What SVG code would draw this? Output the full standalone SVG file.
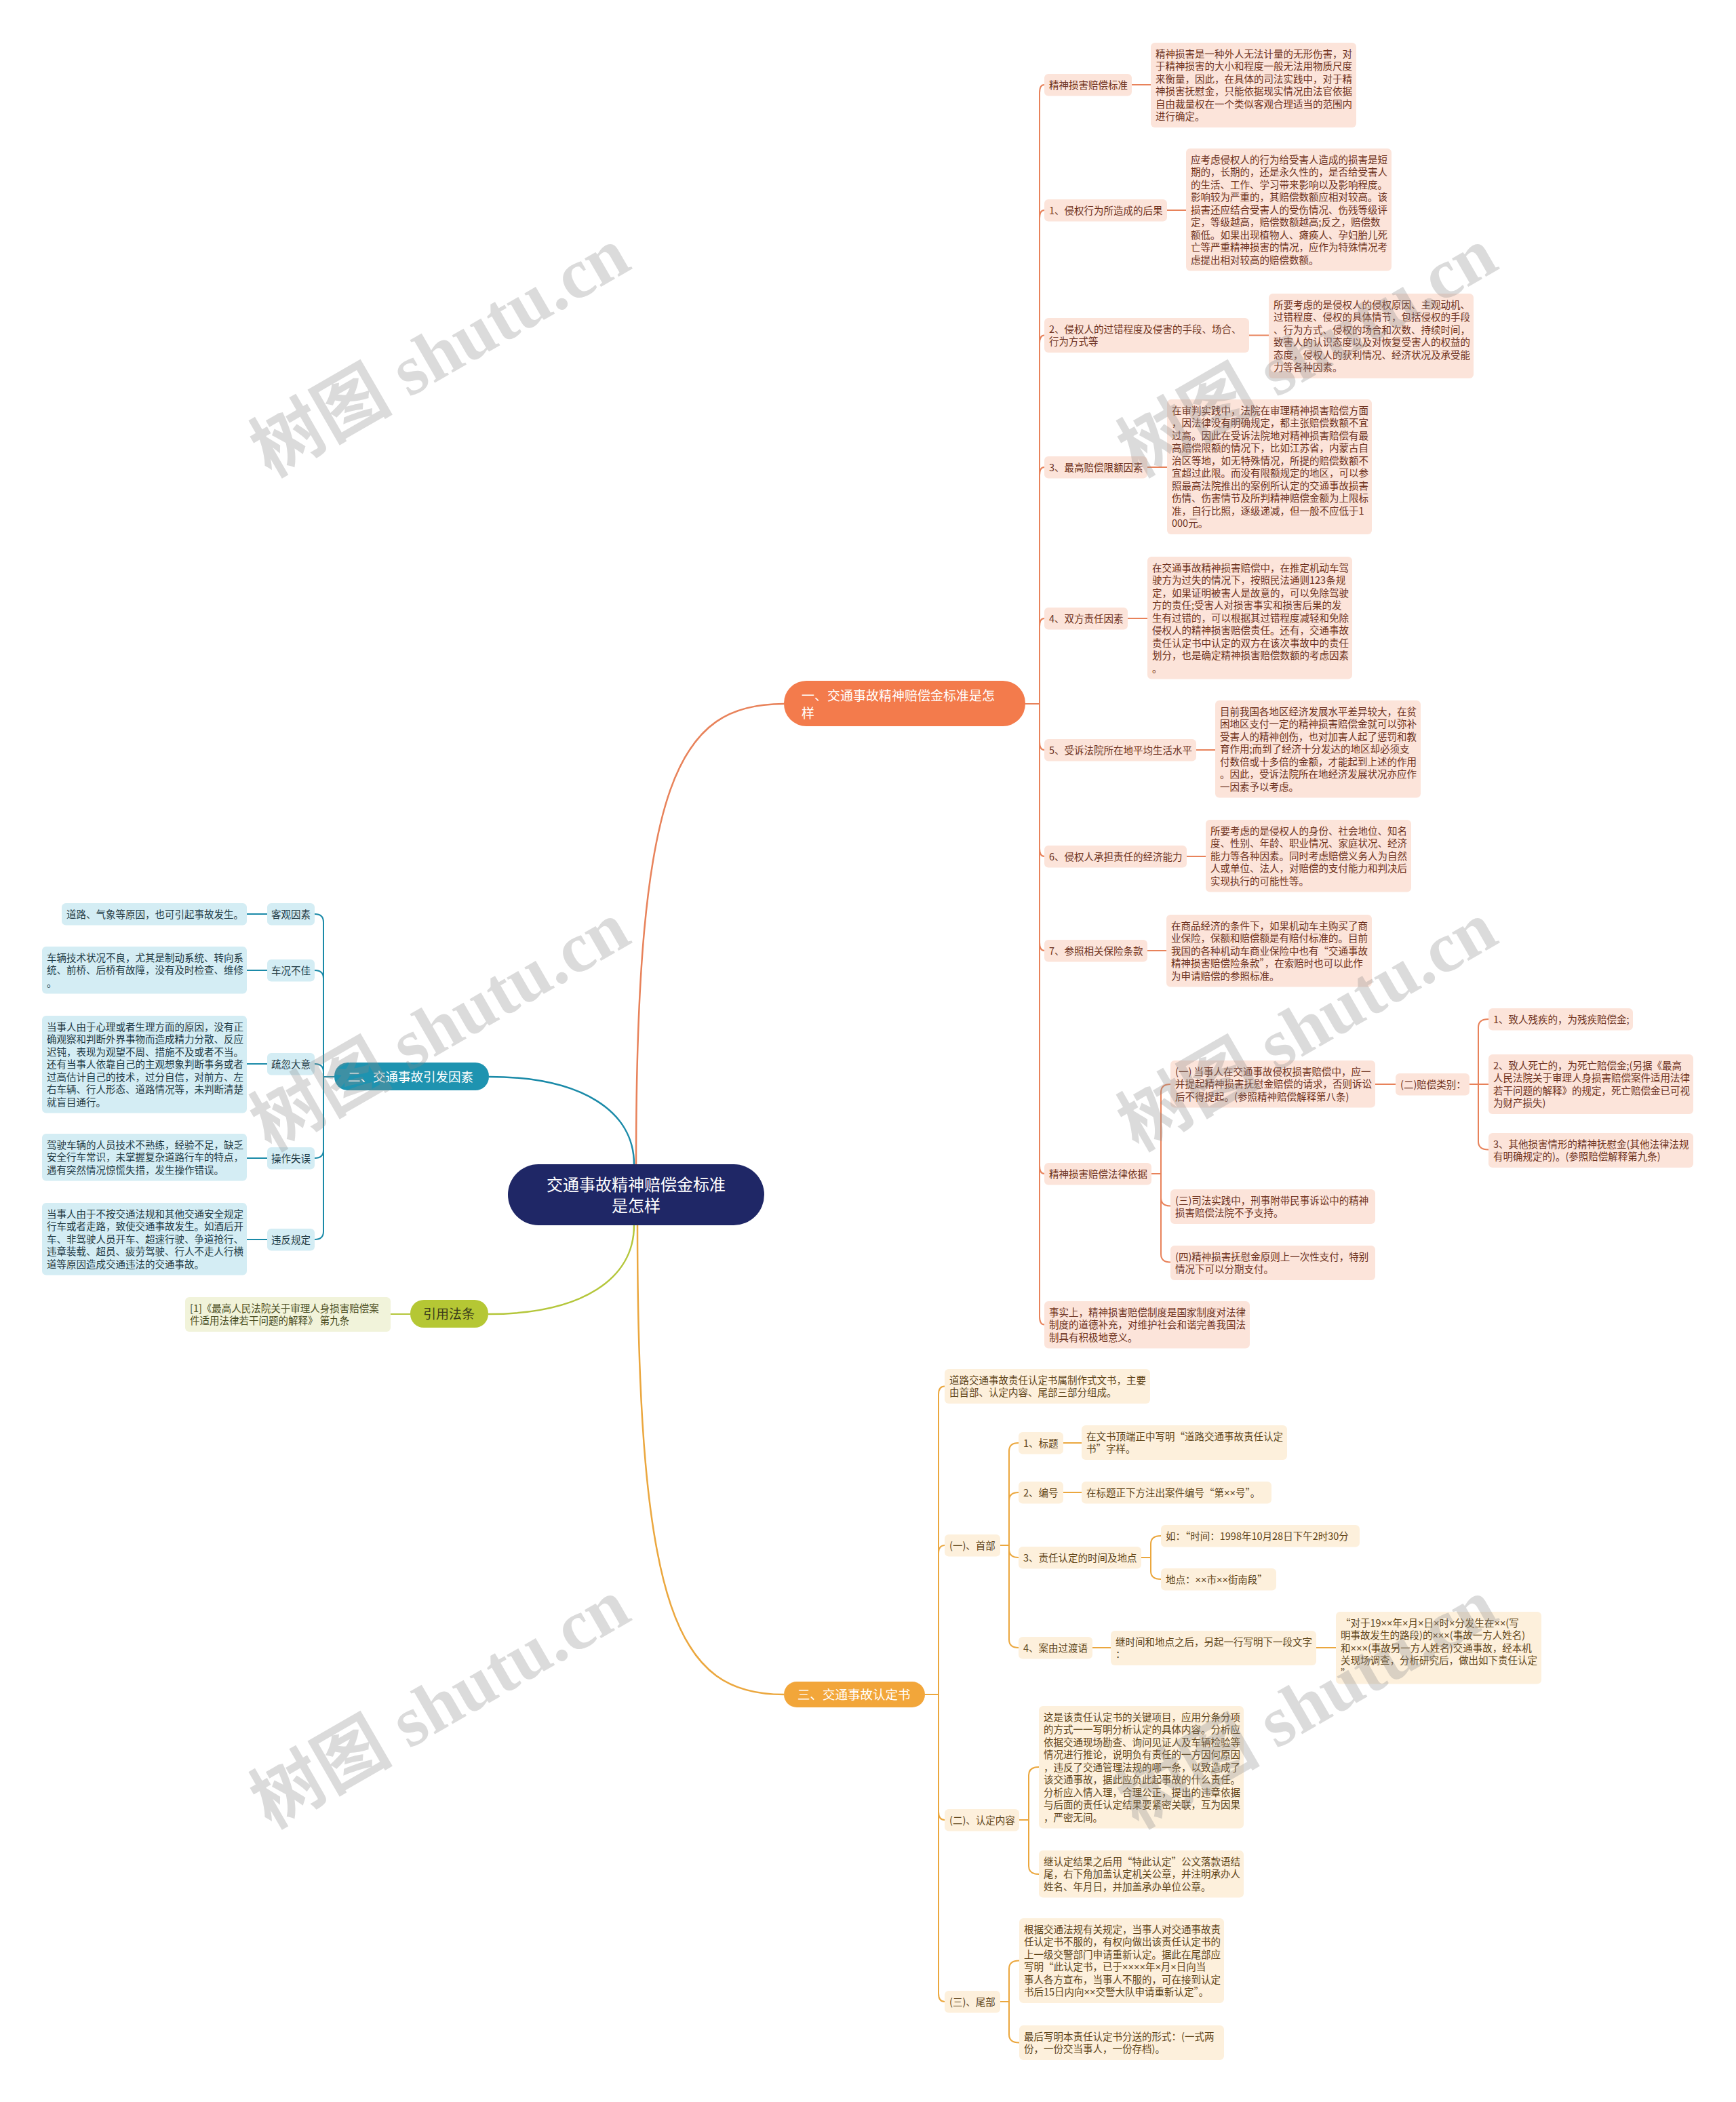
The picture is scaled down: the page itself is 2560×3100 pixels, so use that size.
<svg xmlns="http://www.w3.org/2000/svg" width="2560" height="3100" viewBox="0 0 2560 3100">
<style>
text{font-family:"Noto Sans CJK SC","Noto Sans",sans-serif}
.t{font-size:14.5px}
.x{font-family:"Liberation Sans",sans-serif}
.o rect{fill:#FCE4DA} .o text{fill:#6E3220}
.b rect{fill:#D4EDF4} .b text{fill:#1F3A44}
.y rect{fill:#FDF0DC} .y text{fill:#5E4418}
.g rect{fill:#F1F3DA} .g text{fill:#4A4D22}
#connectors path{fill:none;stroke-width:2}
#connectors .lo{stroke:#E8825A} #connectors .lb{stroke:#1A8AA8} #connectors .ly{stroke:#EBA73E} #connectors .lg{stroke:#B4C63A}
#connectors .main{stroke-width:2.5}
.wm{font-family:"Liberation Serif","Noto Sans CJK SC",serif;font-size:105px;font-weight:bold;fill:#8a8a8a;opacity:.3}
</style>
<rect width="2560" height="3100" fill="#FFFFFF"/>
<g id="connectors">
<path class="lo main" d="M938 1717 C938 1150 1000 1038 1156 1038"/>
<path class="lb main" d="M935 1717 C935 1640 860 1588 721 1588"/>
<path class="lg main" d="M935 1807 C935 1885 860 1938 720 1938"/>
<path class="ly main" d="M940 1807 C940 2380 1000 2499 1156 2499"/>
<path class="lo" d="M1512 1038 H1533 V137 Q1533 125 1540 125"/>
<path class="lo" d="M1512 1038 H1533 V322 Q1533 310 1540 310"/>
<path class="lo" d="M1512 1038 H1533 V506.5 Q1533 494.5 1540 494.5"/>
<path class="lo" d="M1512 1038 H1533 V701 Q1533 689 1540 689"/>
<path class="lo" d="M1512 1038 H1533 V924 Q1533 912 1540 912"/>
<path class="lo" d="M1512 1038 H1533 V1094 Q1533 1106 1540 1106"/>
<path class="lo" d="M1512 1038 H1533 V1251 Q1533 1263 1540 1263"/>
<path class="lo" d="M1512 1038 H1533 V1390 Q1533 1402 1540 1402"/>
<path class="lo" d="M1512 1038 H1533 V1719 Q1533 1731 1540 1731"/>
<path class="lo" d="M1512 1038 H1533 V1941.5 Q1533 1953.5 1540 1953.5"/>
<path class="lo" d="M1669 125 H1697"/>
<path class="lo" d="M1721 310 H1749"/>
<path class="lo" d="M1842 494.5 H1871"/>
<path class="lo" d="M1692 689 H1721"/>
<path class="lo" d="M1663 912 H1692"/>
<path class="lo" d="M1764 1106 H1792"/>
<path class="lo" d="M1750 1263 H1778"/>
<path class="lo" d="M1692 1402 H1720"/>
<path class="lo" d="M1698 1731 H1712 V1611 Q1712 1599 1726 1599"/>
<path class="lo" d="M1698 1731 H1712 V1766.5 Q1712 1778.5 1726 1778.5"/>
<path class="lo" d="M1698 1731 H1712 V1849.5 Q1712 1861.5 1726 1861.5"/>
<path class="lo" d="M2028 1599 H2058"/>
<path class="lo" d="M2167 1599 H2180 V1515 Q2180 1503 2195 1503"/>
<path class="lo" d="M2167 1599 H2195"/>
<path class="lo" d="M2167 1599 H2180 V1683.5 Q2180 1695.5 2195 1695.5"/>
<path class="lb" d="M493 1588 H477 V1360 Q477 1348 464 1348"/>
<path class="lb" d="M493 1588 H477 V1443 Q477 1431 464 1431"/>
<path class="lb" d="M493 1588 H477 V1581 Q477 1569 464 1569"/>
<path class="lb" d="M493 1588 H477 V1696 Q477 1708 464 1708"/>
<path class="lb" d="M493 1588 H477 V1816 Q477 1828 464 1828"/>
<path class="lb" d="M394 1348 H364"/>
<path class="lb" d="M394 1431 H364"/>
<path class="lb" d="M394 1569 H364"/>
<path class="lb" d="M394 1708 H364"/>
<path class="lb" d="M394 1828 H364"/>
<path class="lg" d="M605 1938 H576"/>
<path class="ly" d="M1364 2499 H1384 V2056.5 Q1384 2044.5 1393 2044.5"/>
<path class="ly" d="M1364 2499 H1384 V2291 Q1384 2279 1393 2279"/>
<path class="ly" d="M1364 2499 H1384 V2672 Q1384 2684 1393 2684"/>
<path class="ly" d="M1364 2499 H1384 V2940 Q1384 2952 1393 2952"/>
<path class="ly" d="M1475 2279 H1488 V2140 Q1488 2128 1502 2128"/>
<path class="ly" d="M1475 2279 H1488 V2213 Q1488 2201 1502 2201"/>
<path class="ly" d="M1475 2279 H1488 V2285 Q1488 2297 1502 2297"/>
<path class="ly" d="M1475 2279 H1488 V2418 Q1488 2430 1502 2430"/>
<path class="ly" d="M1568 2128 H1595"/>
<path class="ly" d="M1568 2201 H1595"/>
<path class="ly" d="M1683 2297 H1697 V2277 Q1697 2265 1712 2265"/>
<path class="ly" d="M1683 2297 H1697 V2317 Q1697 2329 1712 2329"/>
<path class="ly" d="M1611 2430 H1638"/>
<path class="ly" d="M1941 2430 H1970"/>
<path class="ly" d="M1503 2684 H1517 V2618 Q1517 2606 1532 2606"/>
<path class="ly" d="M1503 2684 H1517 V2752 Q1517 2764 1532 2764"/>
<path class="ly" d="M1475 2952 H1488 V2903.5 Q1488 2891.5 1503 2891.5"/>
<path class="ly" d="M1475 2952 H1488 V3000.5 Q1488 3012.5 1503 3012.5"/>
</g>

<g id="root"><rect x="749" y="1717" width="378" height="90" rx="45" fill="#1F2766"/>
<text x="938" y="1756" font-size="24" fill="#FFFFFF" text-anchor="middle">交通事故精神赔偿金标准</text>
<text x="938" y="1787" font-size="24" fill="#FFFFFF" text-anchor="middle">是怎样</text></g>

<g id="branch1"><rect x="1156" y="1004" width="356" height="67" rx="33" fill="#F37B4C"/>
<text x="1182" y="1033" font-size="19" fill="#FFFFFF">一、交通事故精神赔偿金标准是怎</text>
<text x="1182" y="1059" font-size="19" fill="#FFFFFF">样</text></g>

<g id="branch2"><rect x="493" y="1567" width="228" height="41" rx="20" fill="#1E93B0"/>
<text x="513" y="1594.5" font-size="18.5" fill="#FFFFFF">二、交通事故引发因素</text></g>

<g id="branch3"><rect x="1156" y="2480" width="208" height="38" rx="19" fill="#F2A63A"/>
<text x="1176" y="2506" font-size="18.5" fill="#FFFFFF">三、交通事故认定书</text></g>

<g id="branch4"><rect x="605" y="1917" width="115" height="41" rx="20" fill="#B5C734"/>
<text x="662" y="1945" font-size="19" fill="#3A3C1A" text-anchor="middle">引用法条</text></g>

<g id="n1-0" class="o"><rect x="1540" y="109" width="129" height="32.5" rx="6"/><text class="t" x="1547" y="130.5">精神损害赔偿标准</text></g>
<g id="n1-0t" class="o"><rect x="1697" y="63" width="303" height="125" rx="6"/><text class="t"><tspan x="1704" y="84.5">精神损害是一种外人无法计量的无形伤害，对</tspan><tspan x="1704" y="103">于精神损害的大小和程度一般无法用物质尺度</tspan><tspan x="1704" y="121.5">来衡量，因此，在具体的司法实践中，对于精</tspan><tspan x="1704" y="140">神损害抚慰金，只能依据现实情况由法官依据</tspan><tspan x="1704" y="158.5">自由裁量权在一个类似客观合理适当的范围内</tspan><tspan x="1704" y="177">进行确定。</tspan></text></g>

<g id="n1-1" class="o"><rect x="1540" y="294" width="181" height="32.5" rx="6"/><text class="t" x="1547" y="315.5">1、侵权行为所造成的后果</text></g>
<g id="n1-1t" class="o"><rect x="1749" y="219" width="303" height="180.5" rx="6"/><text class="t"><tspan x="1756" y="240.5">应考虑侵权人的行为给受害人造成的损害是短</tspan><tspan x="1756" y="259">期的，长期的，还是永久性的，是否给受害人</tspan><tspan x="1756" y="277.5">的生活、工作、学习带来影响以及影响程度。</tspan><tspan x="1756" y="296">影响较为严重的，其赔偿数额应相对较高。该</tspan><tspan x="1756" y="314.5">损害还应结合受害人的受伤情况、伤残等级评</tspan><tspan x="1756" y="333">定，等级越高，赔偿数额越高;反之，赔偿数</tspan><tspan x="1756" y="351.5">额低。如果出现植物人、瘫痪人、孕妇胎儿死</tspan><tspan x="1756" y="370">亡等严重精神损害的情况，应作为特殊情况考</tspan><tspan x="1756" y="388.5">虑提出相对较高的赔偿数额。</tspan></text></g>

<g id="n1-2" class="o"><rect x="1540" y="469" width="302" height="51" rx="6"/><text class="t"><tspan x="1547" y="490.5">2、侵权人的过错程度及侵害的手段、场合、</tspan><tspan x="1547" y="509">行为方式等</tspan></text></g>
<g id="n1-2t" class="o"><rect x="1871" y="433" width="302" height="125" rx="6"/><text class="t"><tspan x="1878" y="454.5">所要考虑的是侵权人的侵权原因、主观动机、</tspan><tspan x="1878" y="473">过错程度、侵权的具体情节，包括侵权的手段</tspan><tspan x="1878" y="491.5">、行为方式、侵权的场合和次数、持续时间，</tspan><tspan x="1878" y="510">致害人的认识态度以及对恢复受害人的权益的</tspan><tspan x="1878" y="528.5">态度，侵权人的获利情况、经济状况及承受能</tspan><tspan x="1878" y="547">力等各种因素。</tspan></text></g>

<g id="n1-3" class="o"><rect x="1540" y="673" width="152" height="32.5" rx="6"/><text class="t" x="1547" y="694.5">3、最高赔偿限额因素</text></g>
<g id="n1-3t" class="o"><rect x="1721" y="589" width="302" height="199" rx="6"/><text class="t"><tspan x="1728" y="610.5">在审判实践中，法院在审理精神损害赔偿方面</tspan><tspan x="1728" y="629">，因法律没有明确规定，都主张赔偿数额不宜</tspan><tspan x="1728" y="647.5">过高。因此在受诉法院地对精神损害赔偿有最</tspan><tspan x="1728" y="666">高赔偿限额的情况下，比如江苏省，内蒙古自</tspan><tspan x="1728" y="684.5">治区等地，如无特殊情况，所提的赔偿数额不</tspan><tspan x="1728" y="703">宜超过此限。而没有限额规定的地区，可以参</tspan><tspan x="1728" y="721.5">照最高法院推出的案例所认定的交通事故损害</tspan><tspan x="1728" y="740">伤情、伤害情节及所判精神赔偿金额为上限标</tspan><tspan x="1728" y="758.5">准，自行比照，逐级递减，但一般不应低于1</tspan><tspan x="1728" y="777">000元。</tspan></text></g>

<g id="n1-4" class="o"><rect x="1540" y="896" width="123" height="32.5" rx="6"/><text class="t" x="1547" y="917.5">4、双方责任因素</text></g>
<g id="n1-4t" class="o"><rect x="1692" y="821" width="302" height="180.5" rx="6"/><text class="t"><tspan x="1699" y="842.5">在交通事故精神损害赔偿中，在推定机动车驾</tspan><tspan x="1699" y="861">驶方为过失的情况下，按照民法通则123条规</tspan><tspan x="1699" y="879.5">定，如果证明被害人是故意的，可以免除驾驶</tspan><tspan x="1699" y="898">方的责任;受害人对损害事实和损害后果的发</tspan><tspan x="1699" y="916.5">生有过错的，可以根据其过错程度减轻和免除</tspan><tspan x="1699" y="935">侵权人的精神损害赔偿责任。还有，交通事故</tspan><tspan x="1699" y="953.5">责任认定书中认定的双方在该次事故中的责任</tspan><tspan x="1699" y="972">划分，也是确定精神损害赔偿数额的考虑因素</tspan><tspan x="1699" y="990.5">。</tspan></text></g>

<g id="n1-5" class="o"><rect x="1540" y="1090" width="224" height="32.5" rx="6"/><text class="t" x="1547" y="1111.5">5、受诉法院所在地平均生活水平</text></g>
<g id="n1-5t" class="o"><rect x="1792" y="1033" width="303" height="143.5" rx="6"/><text class="t"><tspan x="1799" y="1054.5">目前我国各地区经济发展水平差异较大，在贫</tspan><tspan x="1799" y="1073">困地区支付一定的精神损害赔偿金就可以弥补</tspan><tspan x="1799" y="1091.5">受害人的精神创伤，也对加害人起了惩罚和教</tspan><tspan x="1799" y="1110">育作用;而到了经济十分发达的地区却必须支</tspan><tspan x="1799" y="1128.5">付数倍或十多倍的金额，才能起到上述的作用</tspan><tspan x="1799" y="1147">。因此，受诉法院所在地经济发展状况亦应作</tspan><tspan x="1799" y="1165.5">一因素予以考虑。</tspan></text></g>

<g id="n1-6" class="o"><rect x="1540" y="1247" width="210" height="32.5" rx="6"/><text class="t" x="1547" y="1268.5">6、侵权人承担责任的经济能力</text></g>
<g id="n1-6t" class="o"><rect x="1778" y="1209" width="303" height="106.5" rx="6"/><text class="t"><tspan x="1785" y="1230.5">所要考虑的是侵权人的身份、社会地位、知名</tspan><tspan x="1785" y="1249">度、性别、年龄、职业情况、家庭状况、经济</tspan><tspan x="1785" y="1267.5">能力等各种因素。同时考虑赔偿义务人为自然</tspan><tspan x="1785" y="1286">人或单位、法人，对赔偿的支付能力和判决后</tspan><tspan x="1785" y="1304.5">实现执行的可能性等。</tspan></text></g>

<g id="n1-7" class="o"><rect x="1540" y="1386" width="152" height="32.5" rx="6"/><text class="t" x="1547" y="1407.5">7、参照相关保险条款</text></g>
<g id="n1-7t" class="o"><rect x="1720" y="1349" width="303" height="106.5" rx="6"/><text class="t"><tspan x="1727" y="1370.5">在商品经济的条件下，如果机动车主购买了商</tspan><tspan x="1727" y="1389">业保险，保额和赔偿额是有赔付标准的。目前</tspan><tspan x="1727" y="1407.5">我国的各种机动车商业保险中也有“交通事故</tspan><tspan x="1727" y="1426">精神损害赔偿险条款”，在索赔时也可以此作</tspan><tspan x="1727" y="1444.5">为申请赔偿的参照标准。</tspan></text></g>

<g id="n1-8" class="o"><rect x="1540" y="1715" width="158" height="32.5" rx="6"/><text class="t" x="1547" y="1736.5">精神损害赔偿法律依据</text></g>
<g id="n1-8a" class="o"><rect x="1726" y="1564" width="302" height="69.5" rx="6"/><text class="t"><tspan x="1733" y="1585.5">(一) 当事人在交通事故侵权损害赔偿中，应一</tspan><tspan x="1733" y="1604">并提起精神损害抚慰金赔偿的请求，否则诉讼</tspan><tspan x="1733" y="1622.5">后不得提起。(参照精神赔偿解释第八条)</tspan></text></g>
<g id="n1-8b" class="o"><rect x="2058" y="1583" width="109" height="32.5" rx="6"/><text class="t" x="2065" y="1604.5">(二)赔偿类别：</text></g>
<g id="n1-8b1" class="o"><rect x="2195" y="1487" width="213" height="32.5" rx="6"/><text class="t" x="2202" y="1508.5">1、致人残疾的，为残疾赔偿金;</text></g>
<g id="n1-8b2" class="o"><rect x="2195" y="1555" width="302" height="88" rx="6"/><text class="t"><tspan x="2202" y="1576.5">2、致人死亡的，为死亡赔偿金;(另据《最高</tspan><tspan x="2202" y="1595">人民法院关于审理人身损害赔偿案件适用法律</tspan><tspan x="2202" y="1613.5">若干问题的解释》的规定，死亡赔偿金已可视</tspan><tspan x="2202" y="1632">为财产损失)</tspan></text></g>
<g id="n1-8b3" class="o"><rect x="2195" y="1671" width="302" height="51" rx="6"/><text class="t"><tspan x="2202" y="1692.5">3、其他损害情形的精神抚慰金(其他法律法规</tspan><tspan x="2202" y="1711">有明确规定的)。(参照赔偿解释第九条)</tspan></text></g>
<g id="n1-8c" class="o"><rect x="1726" y="1754" width="302" height="51" rx="6"/><text class="t"><tspan x="1733" y="1775.5">(三)司法实践中，刑事附带民事诉讼中的精神</tspan><tspan x="1733" y="1794">损害赔偿法院不予支持。</tspan></text></g>
<g id="n1-8d" class="o"><rect x="1726" y="1837" width="302" height="51" rx="6"/><text class="t"><tspan x="1733" y="1858.5">(四)精神损害抚慰金原则上一次性支付，特别</tspan><tspan x="1733" y="1877">情况下可以分期支付。</tspan></text></g>

<g id="n1-9" class="o"><rect x="1540" y="1919" width="303" height="69.5" rx="6"/><text class="t"><tspan x="1547" y="1940.5">事实上，精神损害赔偿制度是国家制度对法律</tspan><tspan x="1547" y="1959">制度的道德补充，对维护社会和谐完善我国法</tspan><tspan x="1547" y="1977.5">制具有积极地意义。</tspan></text></g>

<g id="n2-1" class="b"><rect x="394" y="1332" width="70" height="32.5" rx="6"/><text class="t" x="400" y="1353.5">客观因素</text></g>
<g id="n2-1t" class="b"><rect x="91" y="1332" width="273" height="32.5" rx="6"/><text class="t" x="98" y="1353.5">道路、气象等原因，也可引起事故发生。</text></g>
<g id="n2-2" class="b"><rect x="394" y="1415" width="70" height="32.5" rx="6"/><text class="t" x="400" y="1436.5">车况不佳</text></g>
<g id="n2-2t" class="b"><rect x="62" y="1396" width="302" height="69.5" rx="6"/><text class="t"><tspan x="69" y="1417.5">车辆技术状况不良，尤其是制动系统、转向系</tspan><tspan x="69" y="1436">统、前桥、后桥有故障，没有及时检查、维修</tspan><tspan x="69" y="1454.5">。</tspan></text></g>
<g id="n2-3" class="b"><rect x="394" y="1553" width="70" height="32.5" rx="6"/><text class="t" x="400" y="1574.5">疏忽大意</text></g>
<g id="n2-3t" class="b"><rect x="62" y="1498" width="302" height="143.5" rx="6"/><text class="t"><tspan x="69" y="1519.5">当事人由于心理或者生理方面的原因，没有正</tspan><tspan x="69" y="1538">确观察和判断外界事物而造成精力分散、反应</tspan><tspan x="69" y="1556.5">迟钝，表现为观望不周、措施不及或者不当。</tspan><tspan x="69" y="1575">还有当事人依靠自己的主观想象判断事务或者</tspan><tspan x="69" y="1593.5">过高估计自己的技术，过分自信，对前方、左</tspan><tspan x="69" y="1612">右车辆、行人形态、道路情况等，未判断清楚</tspan><tspan x="69" y="1630.5">就盲目通行。</tspan></text></g>
<g id="n2-4" class="b"><rect x="394" y="1692" width="70" height="32.5" rx="6"/><text class="t" x="400" y="1713.5">操作失误</text></g>
<g id="n2-4t" class="b"><rect x="62" y="1672" width="302" height="69.5" rx="6"/><text class="t"><tspan x="69" y="1693.5">驾驶车辆的人员技术不熟练，经验不足，缺乏</tspan><tspan x="69" y="1712">安全行车常识，未掌握复杂道路行车的特点，</tspan><tspan x="69" y="1730.5">遇有突然情况惊慌失措，发生操作错误。</tspan></text></g>
<g id="n2-5" class="b"><rect x="394" y="1812" width="70" height="32.5" rx="6"/><text class="t" x="400" y="1833.5">违反规定</text></g>
<g id="n2-5t" class="b"><rect x="62" y="1774" width="302" height="106.5" rx="6"/><text class="t"><tspan x="69" y="1795.5">当事人由于不按交通法规和其他交通安全规定</tspan><tspan x="69" y="1814">行车或者走路，致使交通事故发生。如酒后开</tspan><tspan x="69" y="1832.5">车、非驾驶人员开车、超速行驶、争道抢行、</tspan><tspan x="69" y="1851">违章装载、超员、疲劳驾驶、行人不走人行横</tspan><tspan x="69" y="1869.5">道等原因造成交通违法的交通事故。</tspan></text></g>

<g id="n4-1" class="g"><rect x="273" y="1913" width="303" height="51" rx="6"/><text class="t"><tspan x="280" y="1934.5">[1]《最高人民法院关于审理人身损害赔偿案</tspan><tspan x="280" y="1953">件适用法律若干问题的解释》 第九条</tspan></text></g>

<g id="n3-0" class="y"><rect x="1393" y="2019" width="303" height="51" rx="6"/><text class="t"><tspan x="1400" y="2040.5">道路交通事故责任认定书属制作式文书，主要</tspan><tspan x="1400" y="2059">由首部、认定内容、尾部三部分组成。</tspan></text></g>
<g id="n3-1" class="y"><rect x="1393" y="2263" width="82" height="32.5" rx="6"/><text class="t" x="1400" y="2284.5">(一)、首部</text></g>
<g id="n3-1a" class="y"><rect x="1502" y="2112" width="66" height="32.5" rx="6"/><text class="t" x="1509" y="2133.5">1、标题</text></g>
<g id="n3-1at" class="y"><rect x="1595" y="2102" width="303" height="51" rx="6"/><text class="t"><tspan x="1602" y="2123.5">在文书顶端正中写明“道路交通事故责任认定</tspan><tspan x="1602" y="2142">书”字样。</tspan></text></g>
<g id="n3-1b" class="y"><rect x="1502" y="2185" width="66" height="32.5" rx="6"/><text class="t" x="1509" y="2206.5">2、编号</text></g>
<g id="n3-1bt" class="y"><rect x="1595" y="2185" width="280" height="32.5" rx="6"/><text class="t" x="1602" y="2206.5">在标题正下方注出案件编号“第<tspan class="x">××</tspan>号”。</text></g>
<g id="n3-1c" class="y"><rect x="1502" y="2281" width="181" height="32.5" rx="6"/><text class="t" x="1509" y="2302.5">3、责任认定的时间及地点</text></g>
<g id="n3-1c1" class="y"><rect x="1712" y="2249" width="293" height="32.5" rx="6"/><text class="t" x="1719" y="2270.5">如：“时间：1998年10月28日下午2时30分</text></g>
<g id="n3-1c2" class="y"><rect x="1712" y="2313" width="170" height="32.5" rx="6"/><text class="t" x="1719" y="2334.5">地点：<tspan class="x">××</tspan>市<tspan class="x">××</tspan>街南段”</text></g>
<g id="n3-1d" class="y"><rect x="1502" y="2414" width="109" height="32.5" rx="6"/><text class="t" x="1509" y="2435.5">4、案由过渡语</text></g>
<g id="n3-1dt" class="y"><rect x="1638" y="2405" width="303" height="51" rx="6"/><text class="t"><tspan x="1645" y="2426.5">继时间和地点之后，另起一行写明下一段文字</tspan><tspan x="1645" y="2445">：</tspan></text></g>
<g id="n3-1dt2" class="y"><rect x="1970" y="2377" width="303" height="106.5" rx="6"/><text class="t"><tspan x="1977" y="2398.5">“对于19<tspan class="x">××</tspan>年<tspan class="x">×</tspan>月<tspan class="x">×</tspan>日<tspan class="x">×</tspan>时<tspan class="x">×</tspan>分发生在<tspan class="x">××</tspan>(写</tspan><tspan x="1977" y="2417">明事故发生的路段)的<tspan class="x">×××</tspan>(事故一方人姓名)</tspan><tspan x="1977" y="2435.5">和<tspan class="x">×××</tspan>(事故另一方人姓名)交通事故，经本机</tspan><tspan x="1977" y="2454">关现场调查，分析研究后，做出如下责任认定</tspan><tspan x="1977" y="2472.5">”</tspan></text></g>
<g id="n3-2" class="y"><rect x="1393" y="2668" width="110" height="32.5" rx="6"/><text class="t" x="1400" y="2689.5">(二)、认定内容</text></g>
<g id="n3-2a" class="y"><rect x="1532" y="2516" width="302" height="180.5" rx="6"/><text class="t"><tspan x="1539" y="2537.5">这是该责任认定书的关键项目，应用分条分项</tspan><tspan x="1539" y="2556">的方式一一写明分析认定的具体内容。分析应</tspan><tspan x="1539" y="2574.5">依据交通现场勘查、询问见证人及车辆检验等</tspan><tspan x="1539" y="2593">情况进行推论，说明负有责任的一方因何原因</tspan><tspan x="1539" y="2611.5">，违反了交通管理法规的哪一条，以致造成了</tspan><tspan x="1539" y="2630">该交通事故，据此应负此起事故的什么责任。</tspan><tspan x="1539" y="2648.5">分析应入情入理，合理公正，提出的违章依据</tspan><tspan x="1539" y="2667">与后面的责任认定结果要紧密关联，互为因果</tspan><tspan x="1539" y="2685.5">，严密无间。</tspan></text></g>
<g id="n3-2b" class="y"><rect x="1532" y="2729" width="302" height="69.5" rx="6"/><text class="t"><tspan x="1539" y="2750.5">继认定结果之后用“特此认定”公文落款语结</tspan><tspan x="1539" y="2769">尾，右下角加盖认定机关公章，并注明承办人</tspan><tspan x="1539" y="2787.5">姓名、年月日，并加盖承办单位公章。</tspan></text></g>
<g id="n3-3" class="y"><rect x="1393" y="2936" width="82" height="32.5" rx="6"/><text class="t" x="1400" y="2957.5">(三)、尾部</text></g>
<g id="n3-3a" class="y"><rect x="1503" y="2829" width="302" height="125" rx="6"/><text class="t"><tspan x="1510" y="2850.5">根据交通法规有关规定，当事人对交通事故责</tspan><tspan x="1510" y="2869">任认定书不服的，有权向做出该责任认定书的</tspan><tspan x="1510" y="2887.5">上一级交警部门申请重新认定。据此在尾部应</tspan><tspan x="1510" y="2906">写明“此认定书，已于<tspan class="x">××××</tspan>年<tspan class="x">×</tspan>月<tspan class="x">×</tspan>日向当</tspan><tspan x="1510" y="2924.5">事人各方宣布，当事人不服的，可在接到认定</tspan><tspan x="1510" y="2943">书后15日内向<tspan class="x">××</tspan>交警大队申请重新认定”。</tspan></text></g>
<g id="n3-3b" class="y"><rect x="1503" y="2987" width="302" height="51" rx="6"/><text class="t"><tspan x="1510" y="3008.5">最后写明本责任认定书分送的形式：(一式两</tspan><tspan x="1510" y="3027">份，一份交当事人，一份存档)。</tspan></text></g>

<g id="watermarks">
<text class="wm" x="648" y="555" text-anchor="middle" transform="rotate(-30 648 518)">树图 shutu.cn</text>
<text class="wm" x="1927" y="555" text-anchor="middle" transform="rotate(-30 1927 518)">树图 shutu.cn</text>
<text class="wm" x="648" y="1549" text-anchor="middle" transform="rotate(-30 648 1512)">树图 shutu.cn</text>
<text class="wm" x="1927" y="1549" text-anchor="middle" transform="rotate(-30 1927 1512)">树图 shutu.cn</text>
<text class="wm" x="648" y="2548" text-anchor="middle" transform="rotate(-30 648 2511)">树图 shutu.cn</text>
<text class="wm" x="1927" y="2548" text-anchor="middle" transform="rotate(-30 1927 2511)">树图 shutu.cn</text>
</g>
</svg>
